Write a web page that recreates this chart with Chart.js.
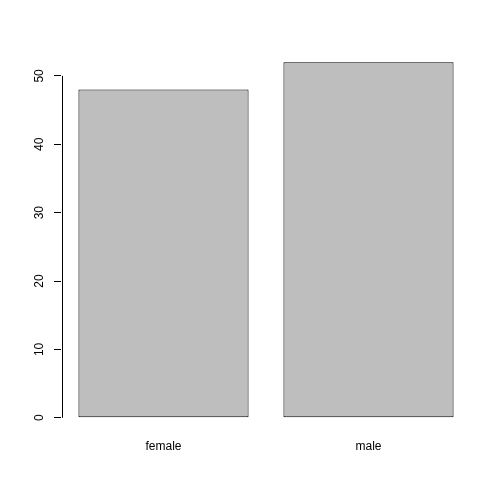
<!DOCTYPE html>
<html>
<head>
<meta charset="utf-8">
<script src="https://cdn.jsdelivr.net/npm/chart.js@4"></script>
<style>
  html, body { margin: 0; padding: 0; background: #fff; }
  #wrap { width: 500px; height: 500px; }
</style>
</head>
<body>
<div id="wrap"><canvas id="chart"></canvas></div>
<script>
var categories = ['female', 'male'];
var counts = [48, 52];
var yTicks = [0, 10, 20, 30, 40, 50];

// R style axis line, only from first to last tick
var rAxis = {
  id: 'rAxis',
  afterDraw: function (chart) {
    var y = chart.scales.y;
    var c = chart.ctx;
    c.save();
    c.strokeStyle = '#000';
    c.lineWidth = 1;
    c.beginPath();
    c.moveTo(Math.round(y.right) + 1.5, y.getPixelForValue(yTicks[0]));
    c.lineTo(Math.round(y.right) + 1.5, y.getPixelForValue(yTicks[yTicks.length - 1]));
    c.stroke();
    c.restore();
  }
};

var ctx = document.getElementById('chart');

var chart = new Chart(ctx, {
  type: 'bar',
  data: {
    labels: categories,
    datasets: [{
      data: counts,
      backgroundColor: '#bebebe',
      borderColor: '#000',
      borderWidth: 1,
      borderSkipped: false,
      barPercentage: 0.83,
      categoryPercentage: 1
    }]
  },
  options: {
    responsive: true,
    maintainAspectRatio: false,
    animation: false,
    layout: { padding: { top: 48, right: 29, left: 0, bottom: 0 } },
    plugins: { legend: { display: false }, tooltip: { enabled: false } },
    scales: {
      x: {
        grid: { display: false, drawTicks: false },
        border: { display: false },
        ticks: { color: '#000', font: { family: 'Liberation Sans', size: 12 }, padding: 7 },
        afterFit: function (s) { s.height = 68; }
      },
      y: {
        min: -2.08,
        max: 54.08,
        afterBuildTicks: function (s) {
          s.ticks = yTicks.map(function (v) { return { value: v }; });
        },
        grid: { drawOnChartArea: false, tickLength: 7, color: '#000', lineWidth: 1 },
        border: { display: false },
        ticks: {
          color: '#000',
          font: { family: 'Liberation Sans', size: 12 },
          minRotation: 90,
          maxRotation: 90,
          crossAlign: 'center',
          padding: 8
        },
        afterFit: function (s) { s.width = 61; }
      }
    }
  },
  plugins: [rAxis]
});
</script>
</body>
</html>
